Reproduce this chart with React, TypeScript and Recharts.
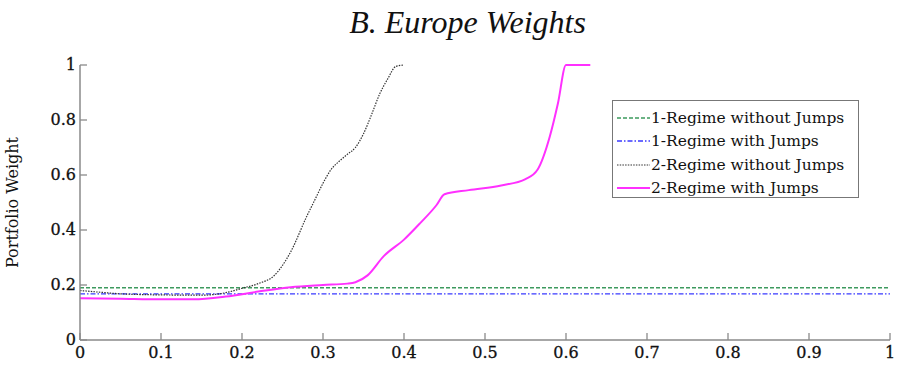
import { LineChart, Line, XAxis, YAxis, Legend } from 'recharts';

const xTicks = [0, 0.1, 0.2, 0.3, 0.4, 0.5, 0.6, 0.7, 0.8, 0.9, 1];
const yTicks = [0, 0.2, 0.4, 0.6, 0.8, 1];

// 1-regime series are flat
const oneRegimeX = [0, 1];
const oneNoJumps = [0.19, 0.19];
const oneJumps = [0.168, 0.168];

const twoNoJumpsX = [0, 0.02, 0.05, 0.1, 0.15, 0.18, 0.2, 0.22, 0.24, 0.26, 0.28, 0.29, 0.3, 0.31, 0.32, 0.33, 0.34, 0.35, 0.36, 0.37, 0.38, 0.39, 0.4];
const twoNoJumps = [0.18, 0.175, 0.168, 0.164, 0.163, 0.172, 0.188, 0.205, 0.235, 0.32, 0.45, 0.51, 0.57, 0.62, 0.65, 0.675, 0.7, 0.75, 0.82, 0.895, 0.95, 0.995, 1];

const twoJumpsX = [0, 0.05, 0.1, 0.14, 0.18, 0.22, 0.26, 0.3, 0.33, 0.34, 0.355, 0.375, 0.4, 0.42, 0.44, 0.45, 0.48, 0.52, 0.55, 0.565, 0.58, 0.59, 0.6, 0.63];
const twoJumps = [0.152, 0.15, 0.148, 0.148, 0.158, 0.176, 0.192, 0.2, 0.205, 0.21, 0.235, 0.305, 0.365, 0.425, 0.49, 0.53, 0.545, 0.562, 0.585, 0.62, 0.74, 0.86, 1, 1];

const toPoints = (xs: number[], ys: number[]) => xs.map((x, i) => ({ x, y: ys[i] }));

const series = [
  { name: '1-Regime without Jumps', data: toPoints(oneRegimeX, oneNoJumps), color: '#3d9a5e', dash: '4 2', width: 1.3 },
  { name: '1-Regime with Jumps', data: toPoints(oneRegimeX, oneJumps), color: '#3a3aff', dash: '5 2 1.5 2', width: 1.3 },
  { name: '2-Regime without Jumps', data: toPoints(twoNoJumpsX, twoNoJumps), color: '#333333', dash: '1.5 1.2', width: 1.2 },
  { name: '2-Regime with Jumps', data: toPoints(twoJumpsX, twoJumps), color: '#ff30ff', dash: undefined, width: 2 },
];

const FRAME = '#8a8a8a';
const TICK_FONT = 'DejaVu Serif';

const BottomTick = (props: any) => {
  const { x, y, payload } = props;
  return (
    <g>
      <line x1={x} x2={x} y1={y} y2={y - 7} stroke={FRAME} strokeWidth={1.3} />
      <text x={x} y={y + 18} textAnchor="middle" fontFamily={TICK_FONT} fontSize={16} fill="#111" stroke="#111" strokeWidth={0.3}>
        {payload.value}
      </text>
    </g>
  );
};

const TopTick = (props: any) => {
  const { x, y } = props;
  return <line x1={x} x2={x} y1={y} y2={y + 7} stroke={FRAME} strokeWidth={1.3} />;
};

const LeftTick = (props: any) => {
  const { x, y, payload } = props;
  return (
    <g>
      <line x1={x} x2={x + 7} y1={y} y2={y} stroke={FRAME} strokeWidth={1.3} />
      <text x={x - 4} y={y + 5} textAnchor="end" fontFamily={TICK_FONT} fontSize={16} fill="#111" stroke="#111" strokeWidth={0.3}>
        {payload.value}
      </text>
    </g>
  );
};

const RightTick = (props: any) => {
  const { x, y } = props;
  return <line x1={x} x2={x - 7} y1={y} y2={y} stroke={FRAME} strokeWidth={1.3} />;
};

const LegendBox = () => (
  <div
    style={{
      border: '1.5px solid #777',
      background: '#fff',
      padding: '5px 0 4px 4px',
      fontFamily: TICK_FONT,
      fontSize: 15.5,
      color: '#111',
      boxSizing: 'border-box',
      width: 247,
      height: 98,
    }}
  >
    {series.map((s) => (
      <div key={s.name} style={{ display: 'flex', alignItems: 'center', height: 23.5 }}>
        <svg width={34} height={10}>
          <line x1={0} x2={33} y1={5} y2={5} stroke={s.color} strokeWidth={s.width} strokeDasharray={s.dash} />
        </svg>
        <span style={{ whiteSpace: 'nowrap' }}>{s.name}</span>
      </div>
    ))}
  </div>
);

export default function App() {
  return (
    <div style={{ position: 'absolute', left: 0, top: 0, width: 899, height: 365, background: '#fff' }}>
      <div
        style={{
          position: 'absolute',
          top: 4,
          left: 0,
          width: 935,
          textAlign: 'center',
          fontFamily: 'Liberation Serif',
          fontStyle: 'italic',
          fontSize: 32,
          color: '#111',
        }}
      >
        B. Europe Weights
      </div>
      <LineChart width={899} height={365} margin={{ top: 65, right: 9, bottom: 0, left: 0 }}>
        <XAxis
          xAxisId="b"
          type="number"
          dataKey="x"
          domain={[0, 1]}
          ticks={xTicks}
          height={25}
          tickSize={0}
          tickMargin={0}
          tickLine={false}
          tick={<BottomTick />}
          stroke={FRAME}
          strokeWidth={1.5}
          allowDataOverflow
        />
        <XAxis
          xAxisId="t"
          orientation="top"
          type="number"
          dataKey="x"
          domain={[0, 1]}
          ticks={xTicks}
          height={0}
          tickSize={0}
          tickMargin={0}
          tickLine={false}
          tick={<TopTick />}
          stroke={FRAME}
          strokeWidth={1.5}
        />
        <YAxis
          yAxisId="l"
          type="number"
          domain={[0, 1]}
          ticks={yTicks}
          width={80}
          tickSize={0}
          tickMargin={0}
          tickLine={false}
          tick={<LeftTick />}
          stroke={FRAME}
          strokeWidth={1.5}
          label={{
            value: 'Portfolio Weight',
            angle: -90,
            position: 'insideLeft',
            offset: 12,
            style: { fontFamily: TICK_FONT, fontSize: 16, fill: '#111', textAnchor: 'middle' },
          }}
        />
        <YAxis
          yAxisId="r"
          orientation="right"
          type="number"
          domain={[0, 1]}
          ticks={yTicks}
          width={0}
          tickSize={0}
          tickMargin={0}
          tickLine={false}
          tick={<RightTick />}
          stroke={FRAME}
          strokeWidth={1.5}
        />
        <Legend
          layout="vertical"
          align="center"
          verticalAlign="middle"
          content={<LegendBox />}
          wrapperStyle={{ position: 'absolute', left: 612, top: 100, width: 247, height: 98 }}
        />
        {series.map((s) => (
          <Line
            key={s.name}
            xAxisId="b"
            yAxisId="l"
            data={s.data}
            dataKey="y"
            name={s.name}
            type="monotone"
            stroke={s.color}
            strokeWidth={s.width}
            strokeDasharray={s.dash}
            dot={false}
            activeDot={false}
            isAnimationActive={false}
          />
        ))}
      </LineChart>
    </div>
  );
}
